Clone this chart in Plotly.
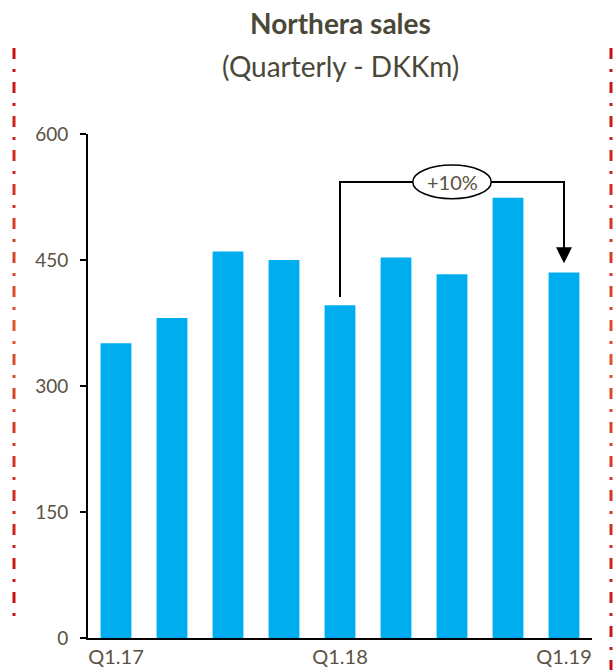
import plotly.graph_objects as go

categories = ["Q1.17", "Q2.17", "Q3.17", "Q4.17", "Q1.18", "Q2.18", "Q3.18", "Q4.18", "Q1.19"]
sales = [351, 381, 460, 450, 396, 453, 433, 524, 435]
tick_labels = ["Q1.17", "Q1.18", "Q1.19"]
y_ticks = [0, 150, 300, 450, 600]
growth_label = "+10%"

TXT = "#5a5242"
FONT = "Lato"

fig = go.Figure()
fig.add_trace(go.Bar(x=categories, y=sales, marker=dict(color="#00aeef", line=dict(width=0)),
                     width=0.55, hoverinfo="x+y"))

# bracket from Q1.18 to Q1.19
i0, i1 = categories.index("Q1.18"), categories.index("Q1.19")
top = 543
fig.add_shape(type="path", xref="x", yref="y",
              path=f"M {i0},{sales[i0]+10} L {i0},{top} L {i1},{top} L {i1},{sales[i1]+25}",
              line=dict(color="black", width=2))
fig.add_annotation(x=i1, y=sales[i1] + 11, ax=i1, ay=sales[i1] + 30, xref="x", yref="y",
                   axref="x", ayref="y", text="", showarrow=True, arrowhead=2,
                   arrowsize=1.6, arrowwidth=2, arrowcolor="black")
mid = (i0 + i1) / 2
fig.add_shape(type="circle", xref="x", yref="y", x0=mid - 0.7, x1=mid + 0.7,
              y0=top - 20, y1=top + 20, fillcolor="white", line=dict(color="black", width=1.5))
fig.add_annotation(x=mid, y=top, xref="x", yref="y", text=growth_label, showarrow=False,
                   font=dict(family=FONT, size=20, color=TXT))

# titles
fig.add_annotation(x=0.5, y=1.183, xref="paper", yref="paper", xanchor="center", yanchor="bottom",
                   text="<b>Northera sales</b>", showarrow=False,
                   font=dict(family=FONT, size=28, color="#4a4838"))
fig.add_annotation(x=0.5, y=1.097, xref="paper", yref="paper", xanchor="center", yanchor="bottom",
                   text="(Quarterly - DKKm)", showarrow=False,
                   font=dict(family=FONT, size=28, color="#4a4838"))

# dash-dot decorative side lines with red/orange gradient
def seg_color(t):
    c1 = (200, 16, 16)
    c2 = (226, 84, 48)
    f = 1 - abs(2 * t - 1)
    return "rgb(%d,%d,%d)" % tuple(int(a + (b - a) * f) for a, b in zip(c1, c2))

H = 504.0
for px, ybot in [(14, 625), (611, 672)]:
    xp = (px - 88) / H
    n = int((ybot - 48) / 34)
    for k in range(n + 1):
        ys = 48 + 34 * k
        ye = min(ys + 34, ybot)
        if ys >= ybot:
            break
        col = seg_color(k / max(n, 1))
        fig.add_shape(type="line", xref="paper", yref="paper", x0=xp, x1=xp,
                      y0=(638 - ys) / H, y1=(638 - ye) / H,
                      line=dict(color=col, width=3, dash="11px,10px,3px,10px"))

fig.update_layout(
    width=614, height=670,
    margin=dict(l=88, r=22, t=134, b=32, autoexpand=False),
    plot_bgcolor="white", paper_bgcolor="white",
    showlegend=False, bargap=0.45,
    font=dict(family=FONT, color=TXT),
    xaxis=dict(range=[-0.5, 8.5], tickmode="array", tickvals=tick_labels, ticktext=tick_labels,
               showline=True, linecolor="black", linewidth=2, ticks="", showgrid=False,
               tickfont=dict(family=FONT, size=20, color=TXT), zeroline=False, automargin=False),
    yaxis=dict(range=[0, 600], tickvals=y_ticks, showline=True, linecolor="black", linewidth=2,
               ticks="outside", ticklen=6, tickwidth=2, tickcolor="black", showgrid=False,
               zeroline=False, tickfont=dict(family=FONT, size=19, color=TXT),
               ticklabelstandoff=8, automargin=False),
)

fig.write_html("out.html", config={"displayModeBar": False},
               post_script="document.body.style.margin='0px';document.body.style.overflow='hidden';")
